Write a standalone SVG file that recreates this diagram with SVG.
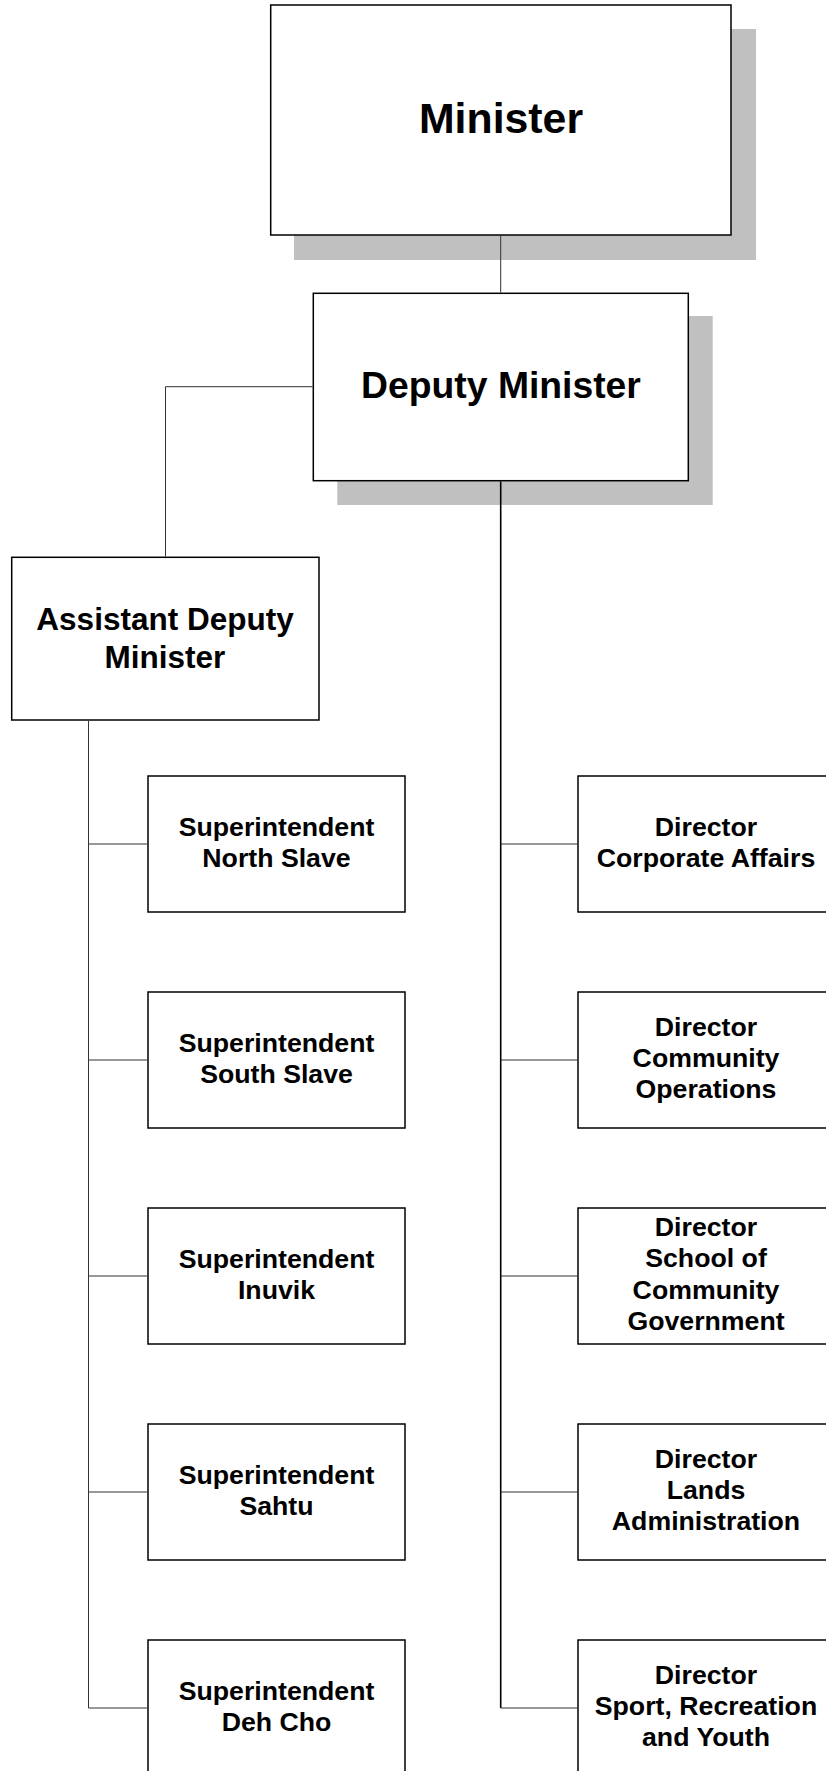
<svg xmlns="http://www.w3.org/2000/svg" width="826" height="1771" viewBox="0 0 826 1771">
  <style>
    .box { fill: #fff; stroke: #000; stroke-width: 1.5; }
    .shadow { fill: #c0c0c0; }
    .link { fill: none; stroke: #333; stroke-width: 1; }
    .trunk { fill: none; stroke: #000; stroke-width: 1.6; }
    text { font-family: "Liberation Sans", Arial, sans-serif; font-weight: bold; fill: #000; text-anchor: middle; }
    .t26 { font-size: 26.7px; }
  </style>

  <g id="minister">
    <rect class="shadow" x="294" y="29" width="462" height="231"/>
    <rect class="box" x="270.7" y="5" width="460.3" height="230"/>
    <text x="501" y="133" font-size="42.8">Minister</text>
  </g>

  <g id="deputy-minister">
    <rect class="shadow" x="337.3" y="316" width="375.4" height="189"/>
    <rect class="box" x="313.3" y="293.3" width="375" height="187.4"/>
    <text x="501" y="398" font-size="37.3">Deputy Minister</text>
  </g>

  <g id="assistant-deputy-minister">
    <rect class="box" x="11.7" y="557.3" width="307.3" height="162.7"/>
    <text x="165" y="629.5" font-size="31.5">Assistant Deputy</text>
    <text x="165" y="667.5" font-size="31.5">Minister</text>
  </g>

  <!-- regional superintendents -->
  <g id="sup-north-slave">
    <rect class="box" x="148" y="776" width="257" height="136"/>
    <text class="t26" x="276.5" y="835.5">Superintendent</text>
    <text class="t26" x="276.5" y="866.5">North Slave</text>
  </g>
  <g id="sup-south-slave">
    <rect class="box" x="148" y="992" width="257" height="136"/>
    <text class="t26" x="276.5" y="1051.5">Superintendent</text>
    <text class="t26" x="276.5" y="1082.5">South Slave</text>
  </g>
  <g id="sup-inuvik">
    <rect class="box" x="148" y="1208" width="257" height="136"/>
    <text class="t26" x="276.5" y="1267.5">Superintendent</text>
    <text class="t26" x="276.5" y="1298.5">Inuvik</text>
  </g>
  <g id="sup-sahtu">
    <rect class="box" x="148" y="1424" width="257" height="136"/>
    <text class="t26" x="276.5" y="1483.5">Superintendent</text>
    <text class="t26" x="276.5" y="1514.5">Sahtu</text>
  </g>
  <g id="sup-deh-cho">
    <rect class="box" x="148" y="1640" width="257" height="136"/>
    <text class="t26" x="276.5" y="1699.5">Superintendent</text>
    <text class="t26" x="276.5" y="1730.5">Deh Cho</text>
  </g>

  <!-- directors -->
  <g id="dir-corporate-affairs">
    <rect class="box" x="578" y="776" width="256" height="136"/>
    <text class="t26" x="706" y="835.5">Director</text>
    <text class="t26" x="706" y="866.5">Corporate Affairs</text>
  </g>
  <g id="dir-community-operations">
    <rect class="box" x="578" y="992" width="256" height="136"/>
    <text class="t26" x="706" y="1036">Director</text>
    <text class="t26" x="706" y="1067">Community</text>
    <text class="t26" x="706" y="1098">Operations</text>
  </g>
  <g id="dir-school-community-government">
    <rect class="box" x="578" y="1208" width="256" height="136"/>
    <text class="t26" x="706" y="1235.5">Director</text>
    <text class="t26" x="706" y="1267">School of</text>
    <text class="t26" x="706" y="1298.5">Community</text>
    <text class="t26" x="706" y="1330">Government</text>
  </g>
  <g id="dir-lands-administration">
    <rect class="box" x="578" y="1424" width="256" height="136"/>
    <text class="t26" x="706" y="1468">Director</text>
    <text class="t26" x="706" y="1499">Lands</text>
    <text class="t26" x="706" y="1530">Administration</text>
  </g>
  <g id="dir-sport-recreation-youth">
    <rect class="box" x="578" y="1640" width="256" height="136"/>
    <text class="t26" x="706" y="1684">Director</text>
    <text class="t26" x="706" y="1715">Sport, Recreation</text>
    <text class="t26" x="706" y="1746">and Youth</text>
  </g>

  <!-- connectors, drawn over the drop shadows -->
  <g id="connectors">
    <path class="link" d="M500.7 235.7 V292.6"/>
    <path class="link" d="M312.6 386.7 H165.5 V556.6"/>
    <path class="link" d="M88.5 720.7 V1708"/>
    <path class="trunk" d="M500.7 481.4 V1708"/>
    <path class="link" d="M88.5 844 H147.3 M88.5 1060 H147.3 M88.5 1276 H147.3 M88.5 1492 H147.3 M88.5 1708 H147.3"/>
    <path class="link" d="M500.7 844 H577.3 M500.7 1060 H577.3 M500.7 1276 H577.3 M500.7 1492 H577.3 M500.7 1708 H577.3"/>
  </g>
</svg>
